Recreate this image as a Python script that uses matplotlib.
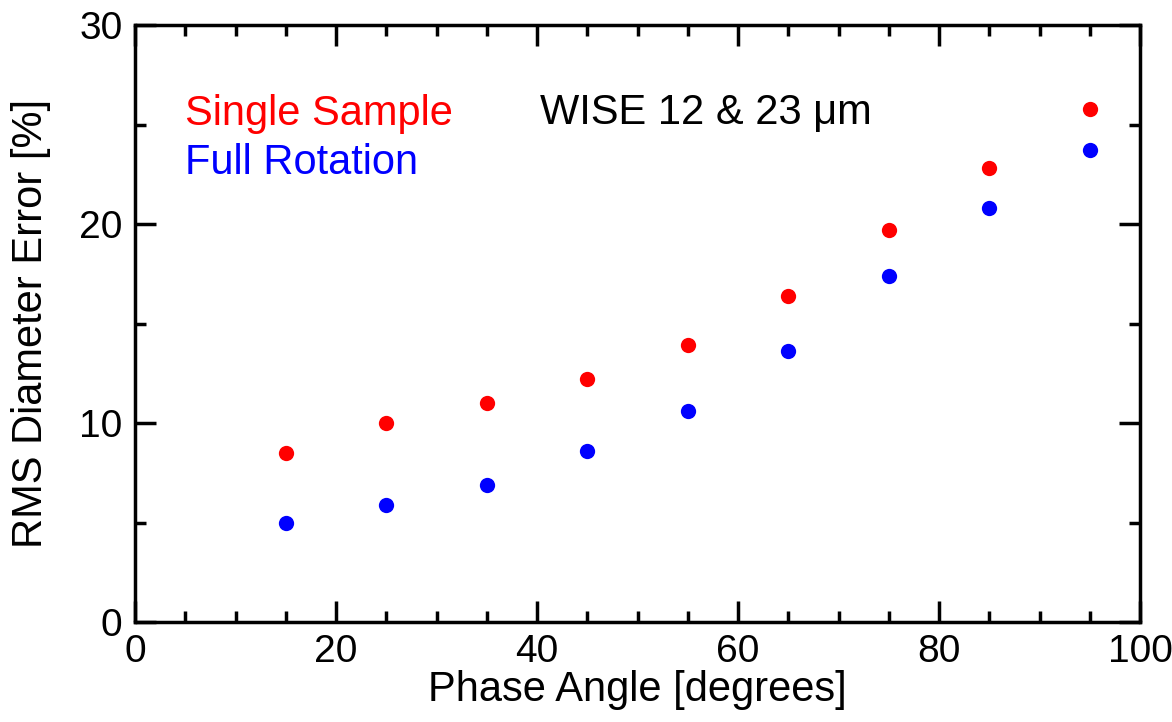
import matplotlib
matplotlib.use("Agg")
import matplotlib.pyplot as plt
from matplotlib.ticker import MultipleLocator

plt.rcParams["font.family"] = ["Liberation Sans", "DejaVu Sans"]

RED = (1.0, 0.0, 0.0)
BLUE = (0.0, 0.0, 1.0)

phase_angle = [15, 25, 35, 45, 55, 65, 75, 85, 95]
single_sample = [8.5, 10.0, 11.0, 12.2, 13.9, 16.4, 19.7, 22.8, 25.8]
full_rotation = [5.0, 5.9, 6.9, 8.6, 10.6, 13.6, 17.4, 20.8, 23.7]


def main() -> None:
    fig = plt.figure(figsize=(11.72, 7.22), dpi=100)
    ax = fig.add_axes([135 / 1172, 1 - 622 / 722, 1005 / 1172, 597 / 722])

    ax.plot(phase_angle, single_sample, "o", color=RED, markersize=11, markeredgewidth=0)
    ax.plot(phase_angle, full_rotation, "o", color=BLUE, markersize=11, markeredgewidth=0)

    ax.set_xlim(0, 100)
    ax.set_ylim(0, 30)
    ax.xaxis.set_major_locator(MultipleLocator(20))
    ax.xaxis.set_minor_locator(MultipleLocator(5))
    ax.yaxis.set_major_locator(MultipleLocator(10))
    ax.yaxis.set_minor_locator(MultipleLocator(5))
    ax.tick_params(which="both", direction="in", top=True, right=True, width=2.5,
                   labelsize=28)
    ax.tick_params(which="major", length=15, pad=9)
    ax.tick_params(which="minor", length=8)
    for spine in ax.spines.values():
        spine.set_linewidth(2.5)

    ax.set_xlabel("Phase Angle [degrees]", fontsize=30, labelpad=0)
    ax.set_ylabel("RMS Diameter Error [%]", fontsize=30, labelpad=20)

    ax.text(5, 25.0, "Single Sample", color=RED, fontsize=30)
    ax.text(5, 22.5, "Full Rotation", color=BLUE, fontsize=30)
    ax.text(40.3, 25.0, "WISE 12 & 23 \u03bcm", color="black", fontsize=30)

    fig.savefig("out.png", dpi=100)
    plt.close(fig)


if __name__ == "__main__":
    main()
